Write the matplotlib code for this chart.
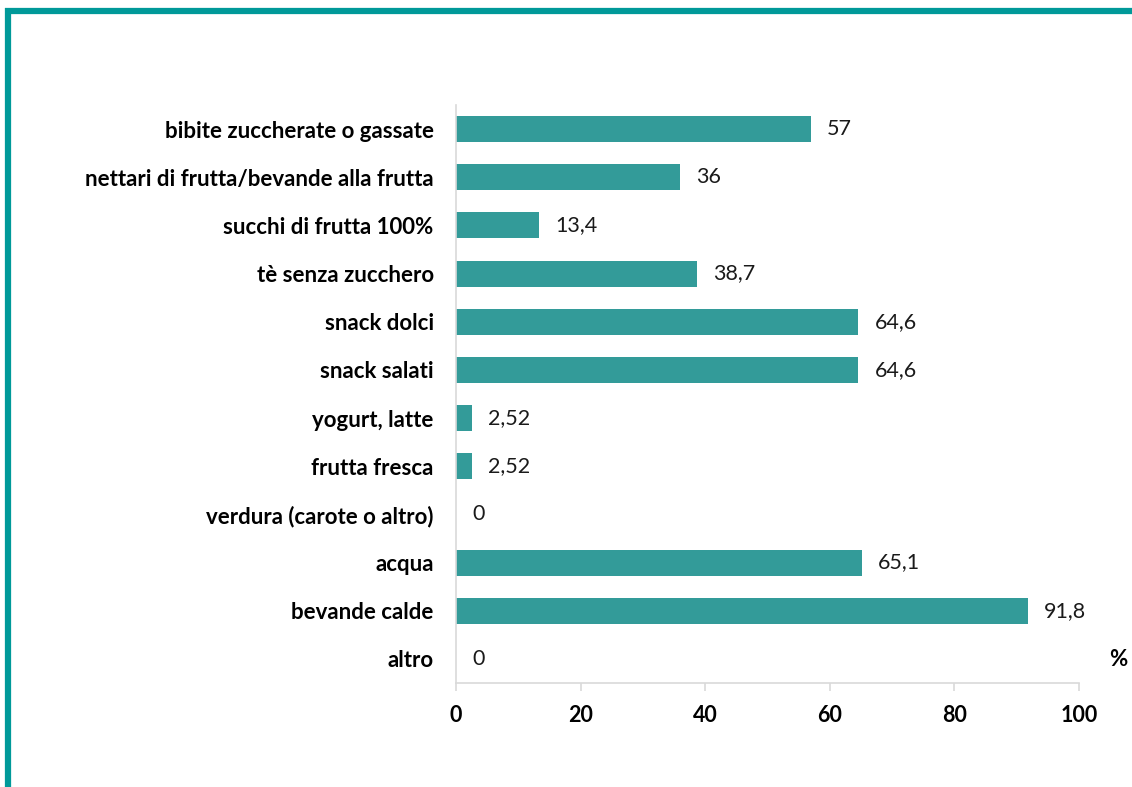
import matplotlib.pyplot as plt
from matplotlib.lines import Line2D

categories = [
    "bibite zuccherate o gassate",
    "nettari di frutta/bevande alla frutta",
    "succhi di frutta 100%",
    "tè senza zucchero",
    "snack dolci",
    "snack salati",
    "yogurt, latte",
    "frutta fresca",
    "verdura (carote o altro)",
    "acqua",
    "bevande calde",
    "altro",
]
values = [57, 36, 13.4, 38.7, 64.6, 64.6, 2.52, 2.52, 0, 65.1, 91.8, 0]
value_labels = ["57", "36", "13,4", "38,7", "64,6", "64,6", "2,52", "2,52", "0", "65,1", "91,8", "0"]
x_ticks = [0, 20, 40, 60, 80, 100]

plt.rcParams['font.family'] = ['Lato', 'DejaVu Sans']

bar_color = '#339b99'
frame_color = '#009999'
axis_color = '#d9d9d9'

fig = plt.figure(figsize=(11.32, 7.87), dpi=100)
ax = fig.add_axes([0.4028, 0.1322, 0.5504, 0.7344])

pos = list(range(len(categories)))
ax.barh(pos, values, height=0.54, color=bar_color)

for p, v, lab in zip(pos, values, value_labels):
    ax.annotate(lab, (v, p), xytext=(16, 0), textcoords='offset pixels',
                va='center', ha='left', fontsize=15.5, color='#1a1a1a')

ax.set_ylim(len(categories) - 0.5, -0.5)
ax.set_xlim(0, 100)
ax.set_yticks(pos)
ax.set_yticklabels(categories, fontsize=16, fontweight='bold')
ax.set_xticks(x_ticks)
ax.set_xticklabels([str(t) for t in x_ticks], fontsize=15.5, fontweight='bold')

for s in ['top', 'right']:
    ax.spines[s].set_visible(False)
for s in ['left', 'bottom']:
    ax.spines[s].set_color(axis_color)
    ax.spines[s].set_linewidth(1.2)
ax.tick_params(axis='y', length=0, pad=16)
ax.tick_params(axis='x', length=6, color=axis_color, width=1.2, pad=10)

fig.text(1118 / 1132, 1 - 660 / 787, "%", fontsize=16, fontweight='bold', ha='center', va='center')

# teal frame on top and left
fig.add_artist(Line2D([0.0045, 1.0], [1 - 11 / 787, 1 - 11 / 787], color=frame_color, lw=4.5,
                      solid_capstyle='butt'))
fig.add_artist(Line2D([8 / 1132, 8 / 1132], [0, 1 - 8 / 787], color=frame_color, lw=4.5,
                      solid_capstyle='butt'))

fig.savefig('out.png', dpi=100)
